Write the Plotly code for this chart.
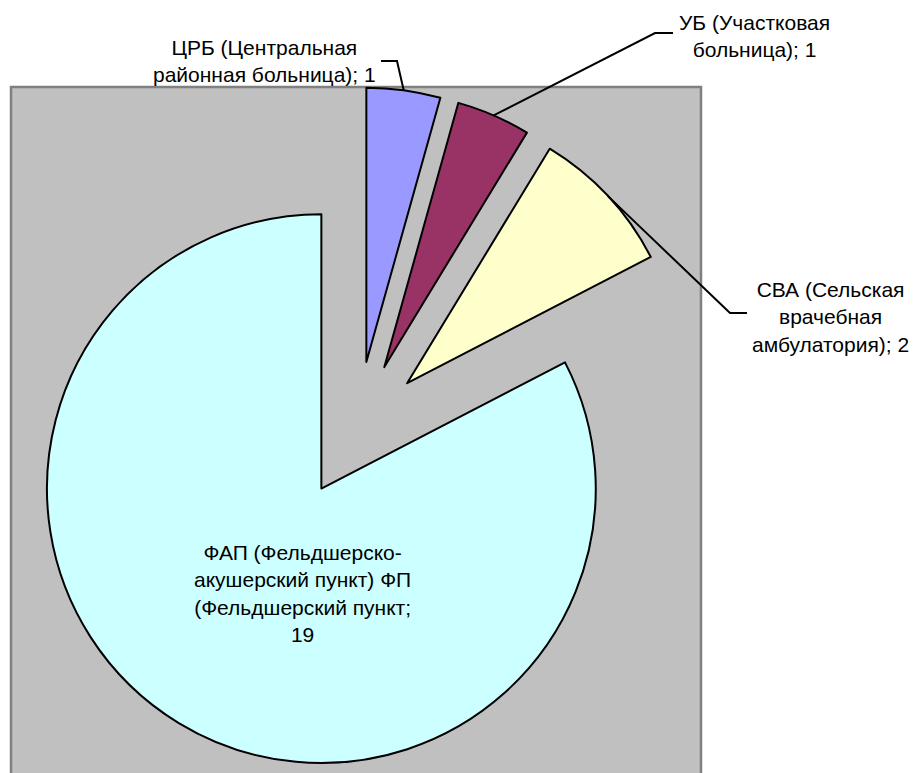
import math
import plotly.graph_objects as go

# data
labels = [
    "ЦРБ (Центральная районная больница)",
    "УБ (Участковая больница)",
    "СВА (Сельская врачебная амбулатория)",
    "ФАП (Фельдшерско-акушерский пункт) ФП (Фельдшерский пункт",
]
values = [1, 1, 2, 19]
label_lines = [
    "ЦРБ (Центральная<br>районная больница); 1",
    "УБ (Участковая<br>больница); 1",
    "СВА (Сельская<br>врачебная<br>амбулатория); 2",
    "ФАП (Фельдшерско-<br>акушерский пункт) ФП<br>(Фельдшерский пункт;<br>19",
]
colors = ["#9999FF", "#993366", "#FFFFCC", "#CCFFFF"]

# page is 918x773 but the html body has an 8px margin
OFF = 8
W, H = 918 - OFF, 773 - OFF
PULL = 0.25
# pie box in page pixels (the grey plot area)
BX0, BX1, BY0, BY1 = 12, 702, 87, 773
FONT = dict(family="Liberation Sans, Arial, sans-serif", size=21, color="#000000")


def px(x):
    return (x - OFF) / W


def py(y):
    return 1 - (y - OFF) / H


fig = go.Figure()
fig.add_trace(go.Pie(
    labels=labels,
    values=values,
    sort=False,
    direction="clockwise",
    rotation=0,
    pull=[PULL] * len(values),
    marker=dict(colors=colors, line=dict(color="#000000", width=2)),
    textinfo="none",
    hoverinfo="label+value",
    showlegend=False,
    domain=dict(x=[px(BX0), px(BX1)], y=[max(0, py(BY1)), py(BY0)]),
))

# geometry of the pie as plotly lays it out
r = min(BX1 - BX0, BY1 - BY0) / (2 + 2 * PULL)
cx, cy = (BX0 + BX1) / 2, (BY0 + BY1) / 2
total = sum(values)
anchors = []
cum = 0
for v in values:
    th = math.radians(360 * (cum + v / 2) / total)
    anchors.append((cx + r * (1 + PULL) * math.sin(th), cy - r * (1 + PULL) * math.cos(th)))
    cum += v

# leader elbows and label placement (page pixels)
elbows = [((397, 61), (381, 61)), ((655, 33), (673, 33)), ((730, 313), (747, 313))]
label_pos = [(378, 61, "right"), (677, 36, "left"), (750, 317, "left"), (302, 593, "center")]

shapes = [dict(
    type="rect", xref="paper", yref="paper", layer="below",
    x0=px(11), x1=px(701), y0=py(780), y1=py(87),
    fillcolor="#C0C0C0", line=dict(color="#808080", width=2.5),
)]
for (ax, ay), (e1, e2) in zip(anchors[:3], elbows):
    path = f"M{px(ax)},{py(ay)} L{px(e1[0])},{py(e1[1])} L{px(e2[0])},{py(e2[1])}"
    shapes.append(dict(type="path", xref="paper", yref="paper", path=path,
                       line=dict(color="#000000", width=2), layer="above"))

annotations = []
for txt, (x, y, anc) in zip(label_lines, label_pos):
    annotations.append(dict(
        text=txt, x=px(x), y=py(y), xref="paper", yref="paper",
        xanchor=anc, yanchor="middle", align="center", showarrow=False, font=FONT,
    ))

fig.update_layout(
    width=W, height=H,
    margin=dict(l=0, r=0, t=0, b=0),
    paper_bgcolor="#FFFFFF",
    plot_bgcolor="#FFFFFF",
    shapes=shapes,
    annotations=annotations,
    font=FONT,
)
fig.write_html("out.html")
